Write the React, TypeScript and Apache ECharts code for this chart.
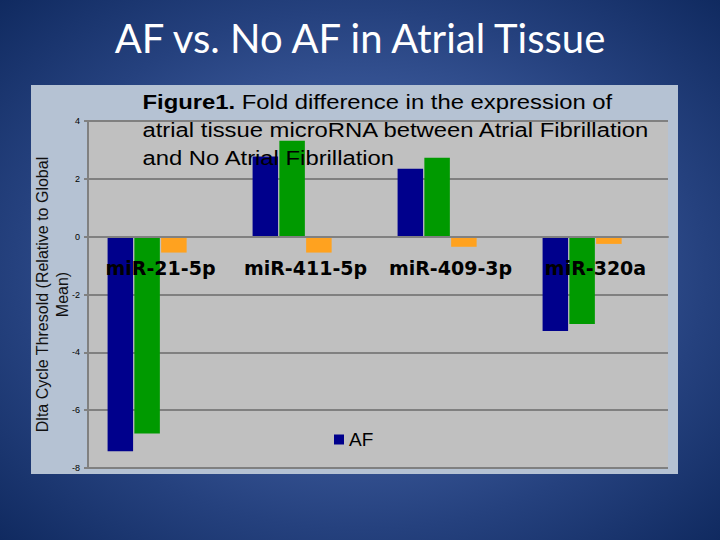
import { useEffect, useRef } from "react";
import * as echarts from "echarts";

const categories = ["miR-21-5p", "miR-411-5p", "miR-409-3p", "miR-320a"];
const seriesNames = ["AF", "No AF", "Fold difference", "Series 4"];
const afValues = [-7.42, 2.77, 2.35, -3.26];
const noAfValues = [-6.81, 3.32, 2.73, -3.02];
const foldValues = [-0.55, -0.55, -0.35, -0.25];
const emptyValues = [null, null, null, null];
const barColors = ["#00008c", "#009a00", "#ffa21f", "#800080"];

const titleText = "AF vs. No AF in Atrial Tissue";
const captionLines = [
    "{b|Figure1.} Fold difference in the expression of",
    "atrial tissue microRNA between Atrial Fibrillation",
    "and No Atrial Fibrillation",
];
const yAxisName = "Dlta Cycle Thresold (Relative to Global\nMean)";

const Y_MIN = -8;
const Y_MAX = 4;
const GRID_TOP = 121;
const GRID_BOTTOM = 72;

const App = () => {
    const chartRef = useRef<HTMLDivElement>(null);

    useEffect(() => {
        if (!chartRef.current) return;

        const chart = echarts.init(chartRef.current, null, { renderer: "svg" });

        const values = [afValues, noAfValues, foldValues, emptyValues];

        // category axis sits on the 0 line (like Excel), onZero isn't picked up so shift it
        const gridHeight = 540 - GRID_TOP - GRID_BOTTOM;
        const zeroShift = -gridHeight * (0 - Y_MIN) / (Y_MAX - Y_MIN);

        chart.setOption({
            animation: false,
            backgroundColor: "transparent",
            title: {
                text: titleText,
                left: "center",
                top: 13,
                textStyle: {
                    color: "#ffffff",
                    fontFamily: "Lato",
                    fontWeight: "normal",
                    fontSize: 40,
                },
            },
            legend: {
                data: ["AF"],
                left: 329,
                top: 425,
                icon: "rect",
                itemWidth: 10,
                itemHeight: 10,
                textStyle: {
                    fontFamily: "Liberation Sans",
                    fontSize: 19,
                    color: "#000",
                },
            },
            grid: {
                left: 88,
                right: 52,
                top: GRID_TOP,
                bottom: GRID_BOTTOM,
                show: true,
                backgroundColor: "#c0c0c0",
                borderWidth: 0,
            },
            xAxis: {
                type: "category",
                data: categories,
                z: 10,
                offset: zeroShift,
                axisLine: {
                    onZero: false,
                    lineStyle: { color: "#808080", width: 2 },
                },
                axisTick: { show: false },
                axisLabel: {
                    interval: 0,
                    margin: 22,
                    fontFamily: "DejaVu Sans",
                    fontWeight: "bold",
                    fontSize: 19,
                    color: "#000",
                },
            },
            yAxis: {
                type: "value",
                min: Y_MIN,
                max: Y_MAX,
                interval: 2,
                name: yAxisName,
                nameLocation: "middle",
                nameRotate: 90,
                nameGap: 16,
                nameMoveOverlap: false,
                nameTextStyle: {
                    fontFamily: "Liberation Sans",
                    fontSize: 16,
                    lineHeight: 20,
                    color: "#111",
                },
                axisLine: {
                    show: true,
                    lineStyle: { color: "#808080", width: 2 },
                },
                axisTick: {
                    show: true,
                    length: 4,
                    lineStyle: { color: "#808080", width: 2 },
                },
                axisLabel: {
                    margin: 8,
                    fontFamily: "Liberation Sans",
                    fontSize: 9,
                    color: "#000",
                },
                splitLine: {
                    lineStyle: { color: "#808080", width: 2 },
                },
            },
            series: seriesNames.map((name, i) => ({
                name,
                type: "bar",
                data: values[i],
                barWidth: 25.5,
                barGap: "5%",
                itemStyle: { color: barColors[i] },
            })),
            graphic: [
                {
                    type: "rect",
                    z: -10,
                    shape: { x: 31, y: 85, width: 647, height: 389 },
                    style: { fill: "#b5c2d3" },
                },
                {
                    type: "text",
                    z: 100,
                    x: 142.5,
                    y: 88,
                    scaleX: 1.135,
                    style: {
                        text: captionLines.join("\n"),
                        fill: "#000",
                        fontFamily: "Liberation Sans",
                        fontSize: 21,
                        lineHeight: 28,
                        rich: {
                            b: {
                                fontFamily: "Liberation Sans",
                                fontWeight: "bold",
                                fontSize: 21,
                                lineHeight: 28,
                                fill: "#000",
                            },
                        },
                    },
                },
            ],
        });

        return () => {
            chart.dispose();
        };
    }, []);

    return (
        <div
            style={{
                position: "absolute",
                left: 0,
                top: 0,
                width: "720px",
                height: "540px",
                background:
                    "radial-gradient(ellipse at 50% 50%, #4d6cae 0%, #3f5d9f 35%, #25417e 68%, #102a60 100%)",
            }}
        >
            <div ref={chartRef} style={{ width: "720px", height: "540px" }} />
        </div>
    );
};

export default App;
